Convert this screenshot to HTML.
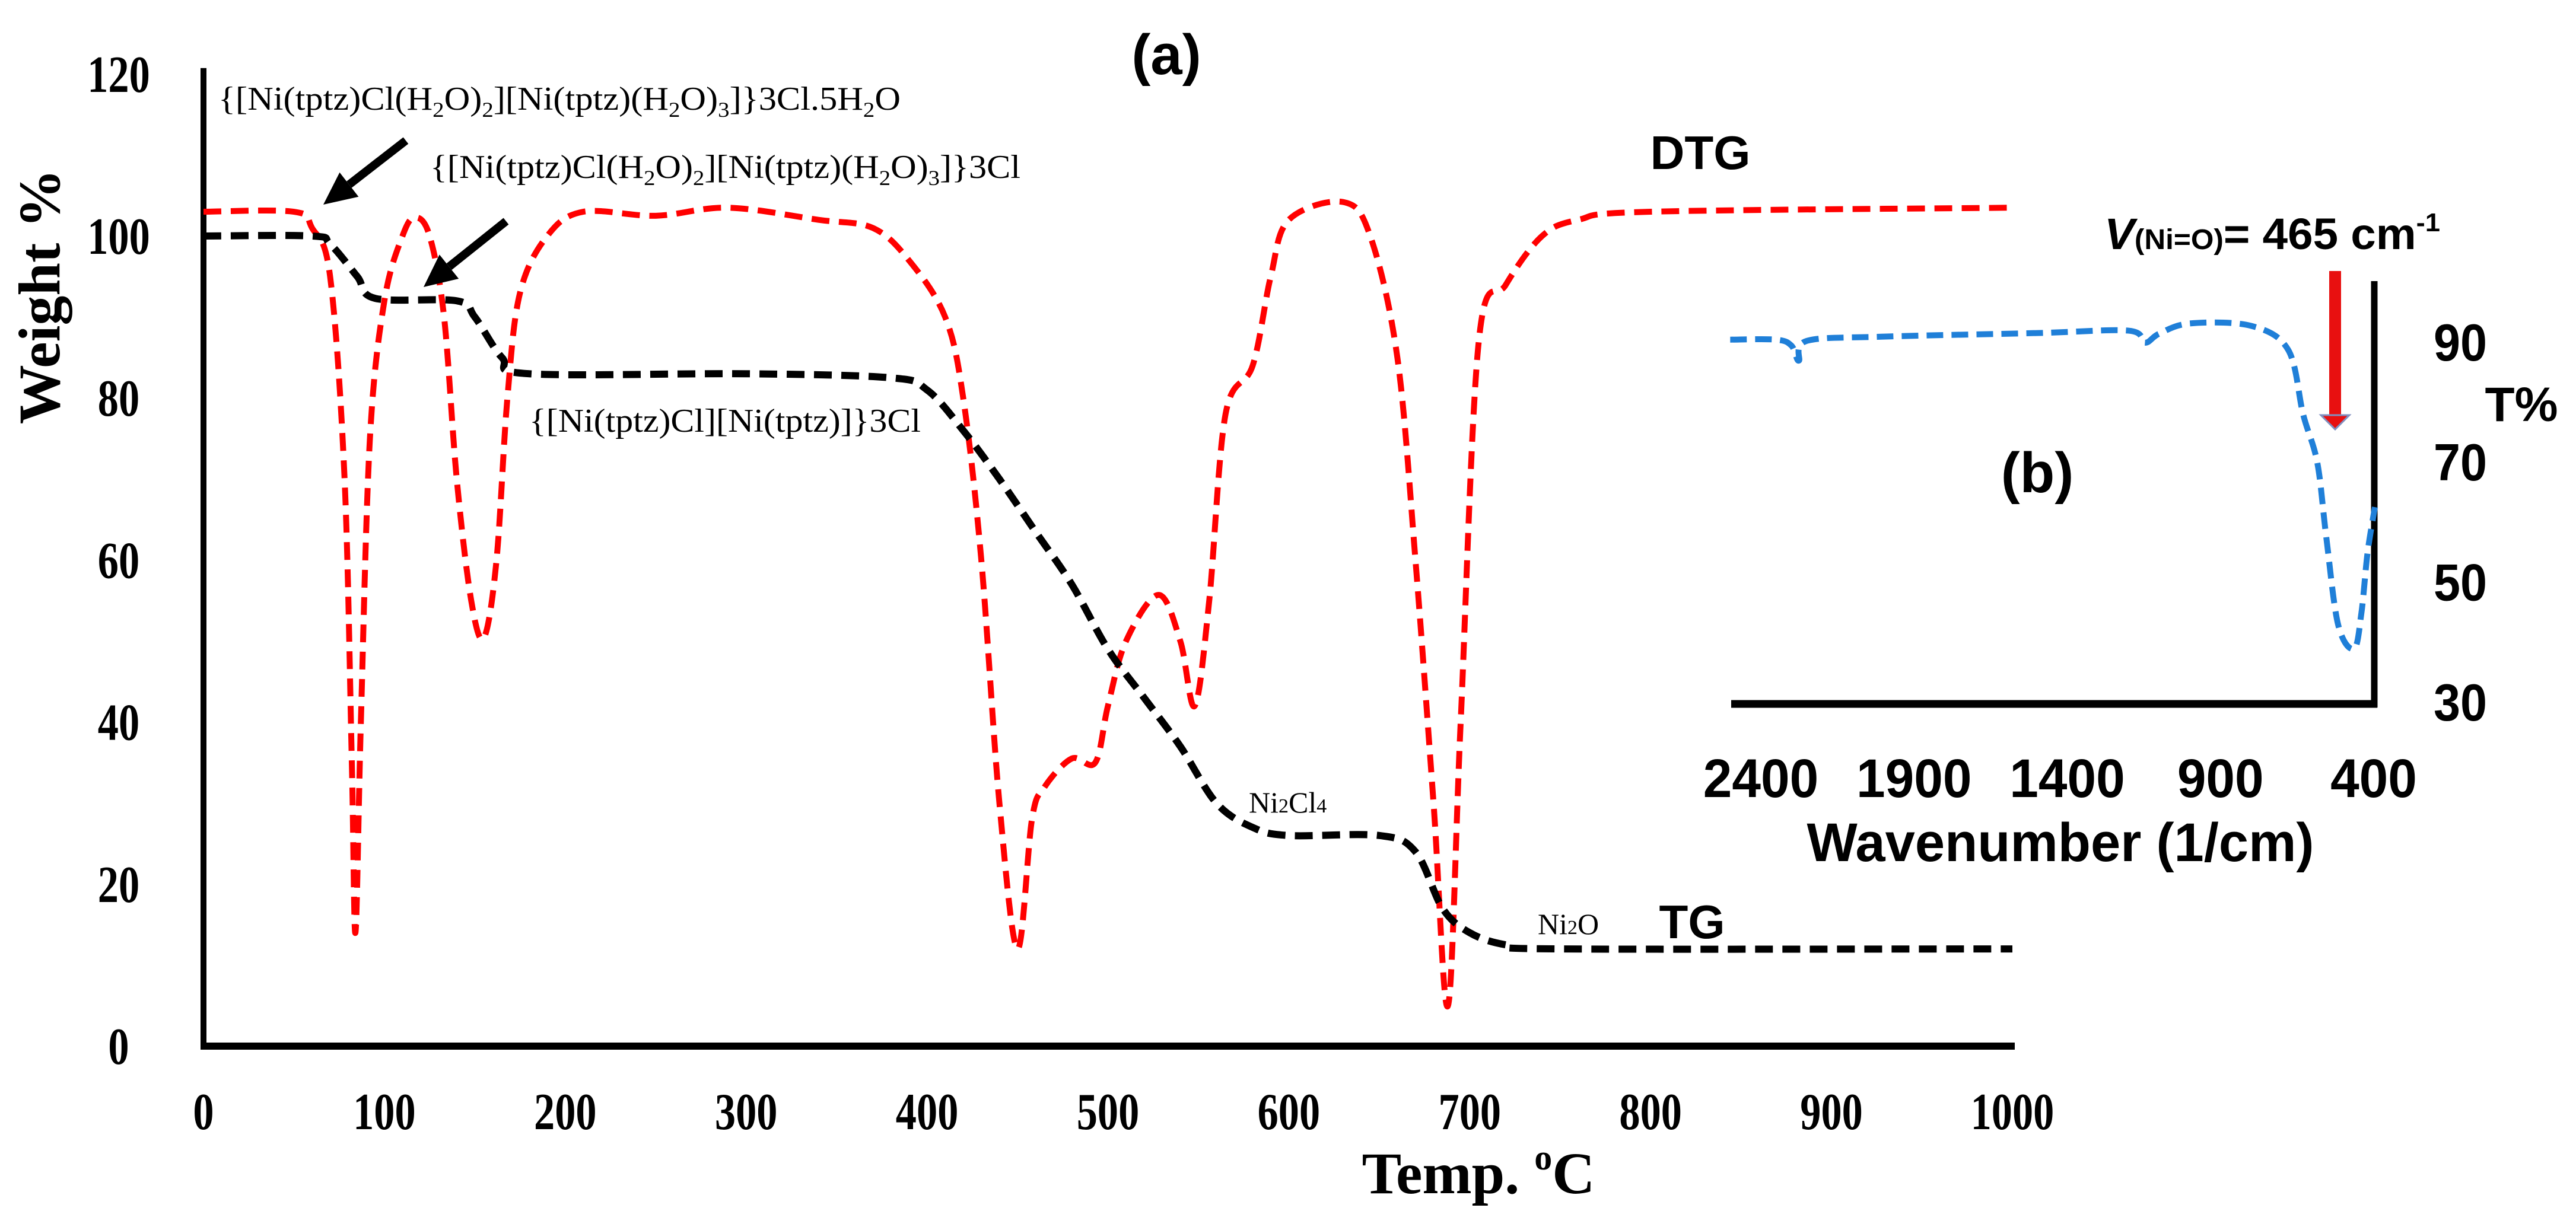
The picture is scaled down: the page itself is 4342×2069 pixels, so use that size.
<!DOCTYPE html>
<html><head><meta charset="utf-8"><style>
html,body{margin:0;padding:0;background:#fff;}
svg{display:block;}
.serif{font-family:"Liberation Serif",serif;}
.sans{font-family:"Liberation Sans",sans-serif;}
</style></head><body>
<svg id="chart" width="4342" height="2069" viewBox="0 0 4342 2069" xmlns="http://www.w3.org/2000/svg">
<g id="main"></g>
<g id="inset"></g>
</svg>
<script>
const xTicks=[0,100,200,300,400,500,600,700,800,900,1000];
const yTicks=[0,20,40,60,80,100,120];
const tgT=[0,60,70,85,95,140,150,165,180,300,380,400,420,440,460,480,500,520,540,560,580,600,650,670,685,700,720,750,1000];
const tgW=[100,100,99,95,92.3,92,90,85,83,83,82.5,81,76,70,63.5,57,49,43,37,30,27,26,26,24,17,14,12.5,12,12];
const dtgT=[0,50,60,70,78,82,84,87,92,100,110,117,125,133,140,148,155,162,168,175,190,210,250,290,340,370,390,410,420,430,440,450,458,465,480,493,500,510,528,540,548,556,565,580,590,600,630,645,660,670,680,688,695,705,720,740,760,800,1000];
const dtgW=[103,103,101,95,70,35,14,40,75,92,100,102.3,100,90,70,55,50.4,60,80,93,100,103,102.5,103.5,102,101,97,90,80,60,30,12,28,32,35.5,35,42,50,55.7,50,42,55,78,84,95,102,104.2,100,85,60,30,5,40,87,94,100,102,103,103.5];
const irTicks=[2400,1900,1400,900,400];
const irYTicks=[30,50,70,90];
const irWn=[2500,2350,2300,2276,2250,2000,1500,1200,1147,1100,1000,800,679,630,584,555,516,464,440,420,396];
const irT=[90.5,90.5,89.5,87,90.3,91,91.6,92,90,91.5,93.2,92.8,88.8,78,70,57.7,43,39,45,55,62.6];

const NS="http://www.w3.org/2000/svg";
function el(tag,attrs,parent,text){const e=document.createElementNS(NS,tag);for(const k in attrs)e.setAttribute(k,attrs[k]);if(text!==undefined)e.textContent=text;parent.appendChild(e);return e;}
const X=t=>343+t*3.049;
const Y=w=>1764-w*13.66;
const IX=wn=>4001-(wn-400)*(1033/2000);
const IY=t=>1185-(t-30)*10.12;

function smooth(pts){let d=`M${pts[0][0]},${pts[0][1]}`;for(let i=0;i<pts.length-1;i++){const p0=pts[Math.max(0,i-1)],p1=pts[i],p2=pts[i+1],p3=pts[Math.min(pts.length-1,i+2)];const c1=[p1[0]+(p2[0]-p0[0])/6,p1[1]+(p2[1]-p0[1])/6],c2=[p2[0]-(p3[0]-p1[0])/6,p2[1]-(p3[1]-p1[1])/6];d+=` C${c1[0]},${c1[1]} ${c2[0]},${c2[1]} ${p2[0]},${p2[1]}`;}return d;}

const main=document.getElementById('main');
let a=el('line',{x1:X(0),y1:Y(120)-10,x2:X(0),y2:Y(0)+6,stroke:'#000','stroke-width':10},main);

a=el('line',{x1:X(0)-5,y1:Y(0),x2:X(1000)+4,y2:Y(0),stroke:'#000','stroke-width':12},main);

xTicks.forEach(t=>{const e=el('text',{x:X(t),y:1904,'text-anchor':'middle','font-size':88,'font-weight':'bold',class:'serif',transform:`translate(${X(t)},1904) scale(0.8,1) translate(${-X(t)},-1904)`},main,String(t));
});
yTicks.forEach(w=>{const e=el('text',{x:200,y:Y(w)+30,'text-anchor':'middle','font-size':88,'font-weight':'bold',class:'serif',transform:`translate(200,0) scale(0.8,1) translate(-200,0)`},main,String(w));
});
let t=el('text',{x:0,y:0,'text-anchor':'middle','font-size':100,'font-weight':'bold',class:'serif',transform:'translate(100,500) rotate(-90)'},main,'Weight %');

t=el('text',{x:2492,y:2012,'text-anchor':'middle','font-size':100,'font-weight':'bold',class:'serif'},main,'Temp. ');

el('tspan',{'font-size':60,dy:-40},t,'o');el('tspan',{dy:40},t,'C');
let p=el('path',{d:smooth(dtgT.map((v,i)=>[X(v),Y(dtgW[i])])),fill:'none',stroke:'#ff0000','stroke-width':10,'stroke-dasharray':'30 16'},main);

p=el('path',{d:smooth(tgT.map((v,i)=>[X(v),Y(tgW[i])])),fill:'none',stroke:'#000','stroke-width':12,'stroke-dasharray':'30 16'},main);

t=el('text',{x:1966,y:125,'text-anchor':'middle','font-size':96,'font-weight':'bold',class:'sans'},main,'(a)');

t=el('text',{x:2866,y:285,'text-anchor':'middle','font-size':80,'font-weight':'bold',class:'sans'},main,'DTG');

t=el('text',{x:2852,y:1582,'text-anchor':'middle','font-size':80,'font-weight':'bold',class:'sans'},main,'TG');

function ann(x,y,len,parts,name){const e=el('text',{x:x,y:y,'font-size':56,class:'serif',textLength:len,lengthAdjust:'spacingAndGlyphs'},main);
parts.forEach(pp=>{if(pp[1])el('tspan',{'font-size':36,dy:12},e,pp[0]);else el('tspan',{'font-size':56,dy:pp[2]||0},e,pp[0]);});}
ann(368,185,1150,[['{[Ni(tptz)Cl(H'],['2',1],['O)',0,-12],['2',1],['][Ni(tptz)(H',0,-12],['2',1],['O)',0,-12],['3',1],[']}3Cl.5H',0,-12],['2',1],['O',0,-12]],'annotation-hydrated');
ann(725,300,995,[['{[Ni(tptz)Cl(H'],['2',1],['O)',0,-12],['2',1],['][Ni(tptz)(H',0,-12],['2',1],['O)',0,-12],['3',1],[']}3Cl',0,-12]],'annotation-dehydrated');
t=el('text',{x:892,y:728,'font-size':56,class:'serif',textLength:660,lengthAdjust:'spacingAndGlyphs'},main,'{[Ni(tptz)Cl][Ni(tptz)]}3Cl');

t=el('text',{x:2105,y:1370,'font-size':50,class:'serif'},main,'Ni');el('tspan',{'font-size':34},t,'2');el('tspan',{},t,'Cl');el('tspan',{'font-size':34},t,'4');

t=el('text',{x:2592,y:1575,'font-size':50,class:'serif'},main,'Ni');el('tspan',{'font-size':34},t,'2');el('tspan',{},t,'O');

function arrow(x1,y1,x2,y2,name){const g=el('g',{},main);
const dx=x2-x1,dy=y2-y1,L=Math.hypot(dx,dy),ux=dx/L,uy=dy/L,h=55,w=26;const bx=x2-ux*h,by=y2-uy*h;
el('line',{x1:x1,y1:y1,x2:bx,y2:by,stroke:'#000','stroke-width':14},g);
el('polygon',{points:`${x2},${y2} ${bx-uy*w},${by+ux*w} ${bx+uy*w},${by-ux*w}`,fill:'#000'},g);}
arrow(684,237,545,345,'arrow-hydrated');
arrow(853,373,714,484,'arrow-dehydrated');

const ins=document.getElementById('inset');
a=el('line',{x1:2918,y1:1187,x2:4007,y2:1187,stroke:'#000','stroke-width':13},ins);

a=el('line',{x1:4002,y1:474,x2:4002,y2:1193,stroke:'#000','stroke-width':11},ins);

irTicks.forEach(w=>{const e=el('text',{x:IX(w),y:1344,'text-anchor':'middle','font-size':92,'font-weight':'bold',class:'sans',transform:`translate(${IX(w)},0) scale(0.95,1) translate(${-IX(w)},0)`},ins,String(w));
});
irYTicks.forEach(v=>{const e=el('text',{x:4147,y:IY(v)+30,'text-anchor':'middle','font-size':88,'font-weight':'bold',class:'sans',transform:`translate(4147,0) scale(0.92,1) translate(-4147,0)`},ins,String(v));
});
t=el('text',{x:3473,y:1452,'text-anchor':'middle','font-size':92,'font-weight':'bold',class:'sans',textLength:855,lengthAdjust:'spacingAndGlyphs'},ins,'Wavenumber (1/cm)');

t=el('text',{x:4250,y:710,'text-anchor':'middle','font-size':82,'font-weight':'bold',class:'sans'},ins,'T%');

t=el('text',{x:3434,y:830,'text-anchor':'middle','font-size':96,'font-weight':'bold',class:'sans'},ins,'(b)');

t=el('text',{x:3547,y:420,'font-size':74,'font-weight':'bold',class:'sans',textLength:566,lengthAdjust:'spacingAndGlyphs'},ins);

el('tspan',{'font-style':'italic'},t,'V');el('tspan',{'font-size':48},t,'(Ni=O)');el('tspan',{},t,'= 465 cm');el('tspan',{'font-size':44,dy:-30},t,'-1');
p=el('path',{d:smooth(irWn.map((v,i)=>[IX(v),IY(irT[i])])),fill:'none',stroke:'#1f7fd8','stroke-width':10,'stroke-dasharray':'28 14'},ins);

const ag=el('g',{},ins);
el('line',{x1:3936,y1:457,x2:3936,y2:705,stroke:'#e81010','stroke-width':20},ag);
el('polygon',{points:'3912,700 3960,700 3936,724',fill:'#e81010',stroke:'#8090c0','stroke-width':3},ag);
</script>
</body></html>
